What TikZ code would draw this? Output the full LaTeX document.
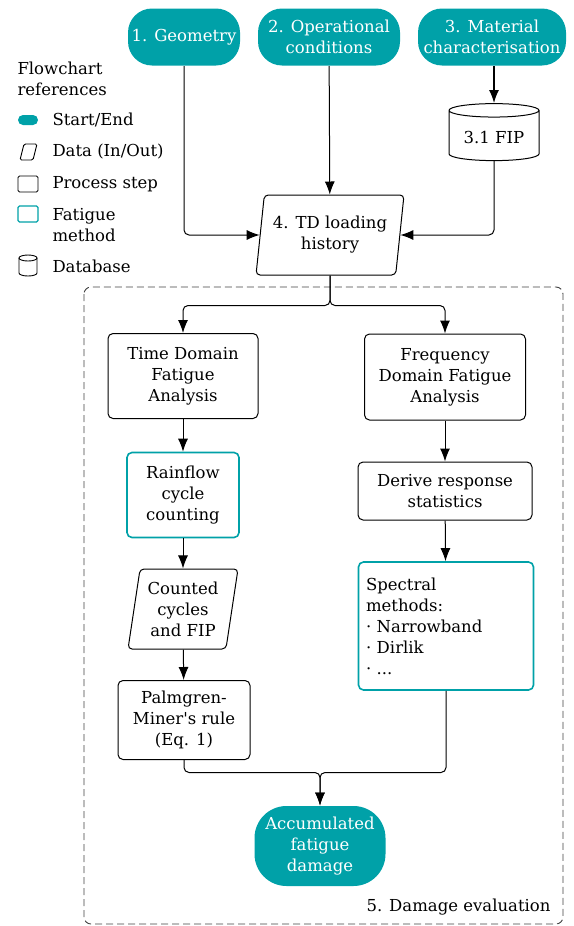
\documentclass[tikz,border=0pt]{standalone}
\usepackage{fontspec}
\setmainfont{DejaVu Serif}
\usepackage{tikz}
\usetikzlibrary{shapes.geometric,arrows.meta,calc,positioning}
\definecolor{teal0}{RGB}{0,161,168}
\tikzstyle{flow}=[
  >={Latex[length=13pt,width=10pt]}, x=1pt, y=-1pt, line width=1pt,
  font=\fontsize{16.5}{21}\selectfont
]
\tikzstyle{startend}=[
  fill=teal0, text=white, rounded corners=24pt, align=center, inner sep=1pt
]
\tikzstyle{process}=[
  draw, rounded corners=5pt, align=center, inner sep=1pt
]
\tikzstyle{fatigue}=[
  process, draw=teal0, line width=1.6pt
]
\tikzstyle{data}=[
  draw, trapezium, trapezium left angle=78, trapezium right angle=102,
  trapezium stretches body, rounded corners=4pt, align=center, inner sep=1pt
]
\tikzstyle{database}=[
  draw, cylinder, shape border rotate=90, aspect=0.2, align=center
]
\tikzstyle{arrow}=[
  ->, rounded corners=5pt
]
\tikzstyle{legendtext}=[
  anchor=west, align=left, inner sep=0pt
]
\tikzstyle{icon}=[
  line width=0.9pt, rounded corners=1.5pt
]

\begin{document}
\begin{tikzpicture}[flow]
  \useasboundingbox (0,0) rectangle (573,926);
  % inputs
  \node (geo) at (184,37) [startend, minimum width=112, minimum height=57] {1. Geometry};
  \node (op) at (329,37) [startend, minimum width=142, minimum height=57] {2. Operational\\conditions};
  \node (mat) at (492,37) [startend, minimum width=148, minimum height=57] {3. Material\\characterisation};
  \node (fip) at (494,137) [database, minimum width=90, minimum height=57] {3.1 FIP};
  \node (td) at (330,235) [data, minimum width=148, minimum height=80] {4. TD loading\\history};

  % legend
  \node (lgd) at (17,79) [legendtext] {Flowchart\\references};
  \fill [teal0, rounded corners=5pt] (18,115) rectangle (38,125);
  \draw [icon] (20,160) -- (24,144) -- (37,144) -- (33,160) -- cycle;
  \draw [icon] (18,176) rectangle (38,192);
  \draw [icon, teal0, line width=1.4pt] (18,206) rectangle (38,222);
  \draw [line width=0.9pt] (19,258) -- (19,273) arc [start angle=180, end angle=360, x radius=9pt, y radius=3pt] -- (37,258);
  \draw [line width=0.9pt] (28,258) ellipse [x radius=9pt, y radius=3pt];
  \node at (52,120) [legendtext] {Start/End};
  \node at (52,152) [legendtext] {Data (In/Out)};
  \node at (52,184) [legendtext] {Process step};
  \node at (52,225) [legendtext] {Fatigue\\method};
  \node at (52,266) [legendtext] {Database};

  % damage evaluation
  \draw [dash pattern=on 7pt off 4pt, rounded corners=7pt, line width=0.9pt, black!75] (84,287) rectangle (563,924);
  \node (dmg) at (551,907) [anchor=east, inner sep=0pt] {5. Damage evaluation};

  \node (tda) at (183,376) [process, minimum width=150, minimum height=85] {Time Domain\\Fatigue\\Analysis};
  \node (fda) at (445,377) [process, minimum width=161, minimum height=86] {Frequency\\Domain Fatigue\\Analysis};
  \node (rain) at (183,495) [fatigue, minimum width=112, minimum height=85] {Rainflow\\cycle\\counting};
  \node (drs) at (445,491) [process, minimum width=174, minimum height=58] {Derive response\\statistics};
  \node (cnt) at (183,609) [data, minimum width=110, minimum height=80] {Counted\\cycles\\and FIP};
  \node (pm) at (184,720) [process, minimum width=132, minimum height=79] {Palmgren-\\Miner\textquotesingle s rule\\(Eq. 1)};
  \node (spec) at (446,626) [fatigue, minimum width=175, minimum height=128, text width=160, align=left] {Spectral\\methods:\\· Narrowband\\· Dirlik\\· ...};
  \node (acc) at (320,846) [startend, minimum width=131, minimum height=80, rounded corners=32pt] {Accumulated\\fatigue\\damage};

  \coordinate (sp) at ($(td.south)+(0,30)$);
  \coordinate (mg) at ($(acc.north)+(0,-33)$);

  % connectors
  \draw [arrow] (geo) |- (td);
  \draw [arrow] (op) -- (td);
  \draw [arrow, line width=1.6pt] (mat.south -| fip) -- (fip);
  \draw [arrow] (fip) |- (td);
  \draw [arrow] (td.south) -- (sp) -| (tda);
  \draw [arrow] (td.south) -- (sp) -| (fda);
  \draw [arrow] (tda) -- (rain);
  \draw [arrow] (rain) -- (cnt);
  \draw [arrow] (cnt) -- (pm);
  \draw [arrow] (fda) -- (drs);
  \draw [arrow] (drs) -- (spec);
  \draw [arrow] (pm.south) |- (mg) -- (acc);
  \draw [arrow] (spec.south) |- (mg) -- (acc);
\end{tikzpicture}
\end{document}
